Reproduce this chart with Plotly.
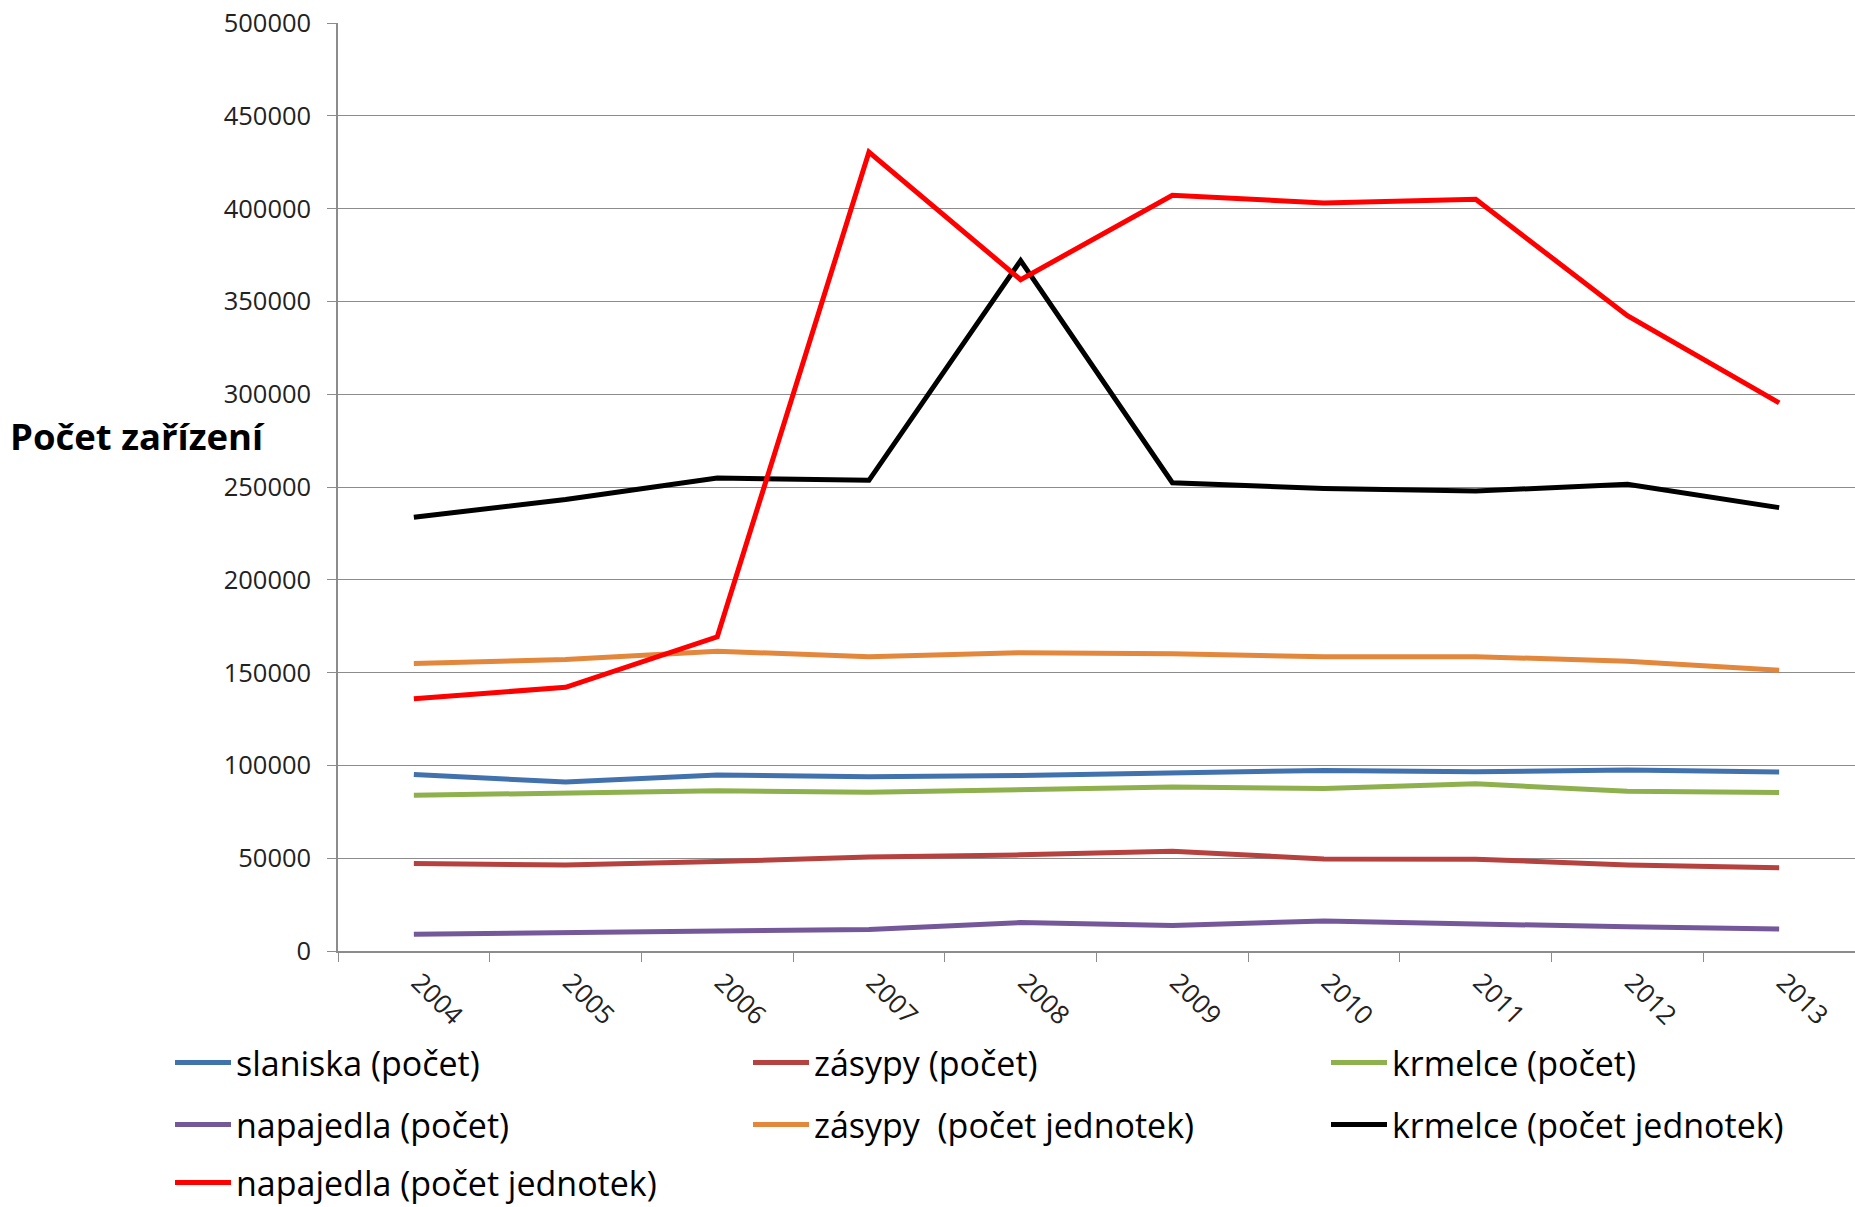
import plotly.graph_objects as go

years = ["2004", "2005", "2006", "2007", "2008", "2009", "2010", "2011", "2012", "2013"]

slaniska_pocet = [95100, 91000, 94800, 93900, 94600, 96000, 97300, 96600, 97500, 96400]
zasypy_pocet = [47100, 46400, 48200, 50600, 51800, 53800, 49600, 49500, 46400, 44900]
krmelce_pocet = [83900, 84800, 86300, 85600, 87000, 88300, 87500, 90100, 86100, 85400]
napajedla_pocet = [9000, 9900, 10600, 11600, 15300, 13700, 16200, 14300, 13000, 11900]
zasypy_jednotek = [154900, 157000, 161500, 158600, 160700, 160100, 158600, 158600, 156100, 151200]
krmelce_jednotek = [233700, 243300, 254800, 253600, 372000, 252300, 249200, 247800, 251500, 238900]
napajedla_jednotek = [135900, 142100, 169300, 430500, 361700, 407200, 403000, 405000, 342300, 295300]

series = [
    ("slaniska (počet)", slaniska_pocet, "#4172AE", "legend"),
    ("zásypy (počet)", zasypy_pocet, "#B5423F", "legend"),
    ("krmelce (počet)", krmelce_pocet, "#8EB04D", "legend"),
    ("napajedla (počet)", napajedla_pocet, "#75589A", "legend2"),
    ("zásypy  (počet jednotek)", zasypy_jednotek, "#E3873C", "legend2"),
    ("krmelce (počet jednotek)", krmelce_jednotek, "#000000", "legend2"),
    ("napajedla (počet jednotek)", napajedla_jednotek, "#FF0000", "legend3"),
]

FONT = "Open Sans"
W, H = 1855, 1207
L, R, T, B = 338, 0, 23, 256
pw = W - L - R
ph = H - T - B

fig = go.Figure()
for name, vals, color, lg in series:
    fig.add_trace(go.Scatter(
        x=years, y=vals, name=name, mode="lines",
        line=dict(color=color, width=5),
        legend=lg,
    ))

def px_to_paper_x(px):
    return (px - L) / pw

def px_to_paper_y(py):
    return (H - B - py) / ph

legend_common = dict(
    orientation="h",
    xanchor="left",
    yanchor="middle",
    x=px_to_paper_x(170),
    font=dict(family=FONT, size=34, color="#000000"),
    entrywidth=507,
    entrywidthmode="pixels",
    itemwidth=56,
    bgcolor="rgba(0,0,0,0)",
    traceorder="normal",
)

fig.update_layout(
    width=W, height=H,
    margin=dict(l=L, r=R, t=T, b=B, autoexpand=False),
    paper_bgcolor="white",
    plot_bgcolor="white",
    font=dict(family=FONT, color="#222222"),
    showlegend=True,
    legend=dict(legend_common, y=px_to_paper_y(1063)),
    legend2=dict(legend_common, y=px_to_paper_y(1125)),
    legend3=dict(legend_common, y=px_to_paper_y(1183)),
    xaxis=dict(
        type="category",
        range=[-0.5, 9.5],
        showgrid=False,
        showline=True, linecolor="#8c8c8c", linewidth=1.5,
        ticks="outside", ticklen=9, tickcolor="#8c8c8c", tickwidth=1.3,
        tickson="boundaries",
        tickangle=45,
        tickfont=dict(family=FONT, size=26, color="#222222"),
        ticklabelstandoff=4,
        ticklabelshift=5,
        zeroline=False,
    ),
    yaxis=dict(
        range=[0, 500000],
        dtick=50000,
        tickformat="d",
        showgrid=True, gridcolor="#8c8c8c", gridwidth=1.3,
        showline=True, linecolor="#8c8c8c", linewidth=1.5,
        ticks="outside", ticklen=9, tickcolor="#8c8c8c", tickwidth=1.3,
        tickfont=dict(family=FONT, size=25.5, color="#222222"),
        ticklabelstandoff=11,
        ticklabeloverflow="allow",
        zeroline=False,
    ),
    annotations=[dict(
        text="<b>Počet zařízení</b>",
        xref="paper", yref="paper",
        x=px_to_paper_x(8), y=px_to_paper_y(436),
        xanchor="left", yanchor="middle",
        showarrow=False,
        font=dict(family=FONT, size=36.5, color="#000000"),
    )],
)

fig.write_html(
    "out.html",
    config={"displayModeBar": False},
    post_script="document.body.style.margin='0';document.body.style.overflow='hidden';",
)
